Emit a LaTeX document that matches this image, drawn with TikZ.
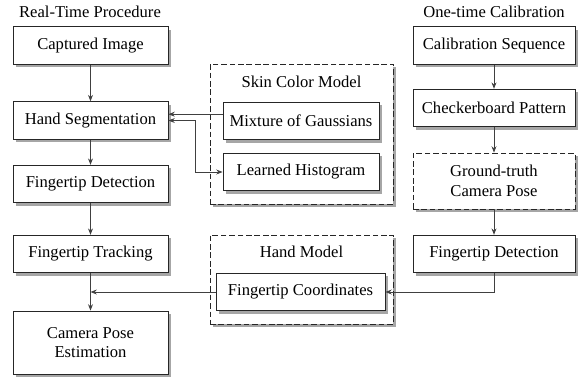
\documentclass[tikz,border=0pt]{standalone}
\usepackage{fontspec}
\setmainfont{Liberation Serif}
\usepackage{tikz}
\usetikzlibrary{arrows.meta,positioning,shadows,calc}
\definecolor{LineGray}{RGB}{64,64,64}

\begin{document}
\begin{tikzpicture}[
  stepbox/.style={draw=black!85,fill=white,line width=0.6pt,
                  minimum width=3.875cm,minimum height=0.94cm,align=center,
                  font=\fontsize{11.8}{14}\selectfont,inner sep=2pt,
                  drop shadow={shadow xshift=0.07cm,shadow yshift=-0.07cm,fill=black!35,opacity=1}},
  groupbox/.style={draw=black!85,fill=white,line width=0.6pt,dash pattern=on 4pt off 2pt,
                   drop shadow={shadow xshift=0.07cm,shadow yshift=-0.07cm,fill=black!35,opacity=1}},
  heading/.style={font=\fontsize{11.8}{14}\selectfont,inner sep=0pt},
  arr/.style={draw=LineGray,line width=0.6pt,-{Stealth[length=4.5pt,width=3.5pt]}},
  biarr/.style={draw=LineGray,line width=0.6pt,{Stealth[length=4.5pt,width=3.5pt]}-{Stealth[length=4.5pt,width=3.5pt]}},
]
\useasboundingbox (0,0) rectangle (14.45,-9.425);

% real-time procedure
\node[heading] (rtitle) at (2.25,-0.3) {Real-Time Procedure};
\node[stepbox] (capt) at (2.2625,-1.1375) {Captured Image};
\node[stepbox] (seg) at (2.2625,-3.0125) {Hand Segmentation};
\node[stepbox] (fdet) at (2.2625,-4.6) {Fingertip Detection};
\node[stepbox] (ftrack) at (2.2625,-6.35) {Fingertip Tracking};
\node[stepbox,minimum height=1.575cm] (pose) at (2.2625,-8.5625) {Camera Pose\\Estimation};

% models
\node[groupbox,minimum width=4.575cm,minimum height=3.5cm] (skin) at (7.5375,-3.35) {};
\node[heading] (skintitle) at (7.5375,-2.05) {Skin Color Model};
\node[stepbox,minimum width=3.9cm] (mix) at (7.525,-3.025) {Mixture of Gaussians};
\node[stepbox,minimum width=3.9cm] (hist) at (7.525,-4.3) {Learned Histogram};

\node[groupbox,minimum width=4.575cm,minimum height=2.225cm] (hand) at (7.5375,-6.99) {};
\node[heading] (handtitle) at (7.5375,-6.3) {Hand Model};
\node[stepbox,minimum width=4.225cm] (fcoord) at (7.5125,-7.3) {Fingertip Coordinates};

% one-time calibration
\node[heading] (ctitle) at (12.35,-0.3) {One-time Calibration};
\node[stepbox,minimum width=4.05cm] (calseq) at (12.35,-1.1375) {Calibration Sequence};
\node[stepbox,minimum width=4.05cm] (checker) at (12.35,-2.7) {Checkerboard Pattern};
\node[groupbox,minimum width=4.05cm,minimum height=1.4cm,align=center,
      font=\fontsize{11.8}{14}\selectfont] (ground) at (12.35,-4.525) {Ground-truth\\Camera Pose};
\node[stepbox,minimum width=4.05cm] (fdetr) at (12.35,-6.35) {Fingertip Detection};

\draw[arr] (capt) -- (seg);
\draw[arr] (seg) -- (fdet);
\draw[arr] (fdet) -- (ftrack);
\draw[arr] (ftrack) -- (pose);
\draw[arr] ([yshift=0.17cm]mix.west) -- ([yshift=0.17cm]mix.west -| seg.east);
\draw[biarr] (seg.east) -- ++(0.675,0) |- (hist.west);
\draw[arr] (fcoord.west) -- (fcoord.west -| ftrack.south);

\draw[arr] (calseq) -- (checker);
\draw[arr] (checker) -- (ground);
\draw[arr] (ground) -- (fdetr);
\draw[arr] (fdetr.south) |- (fcoord.east);
\end{tikzpicture}
\end{document}
